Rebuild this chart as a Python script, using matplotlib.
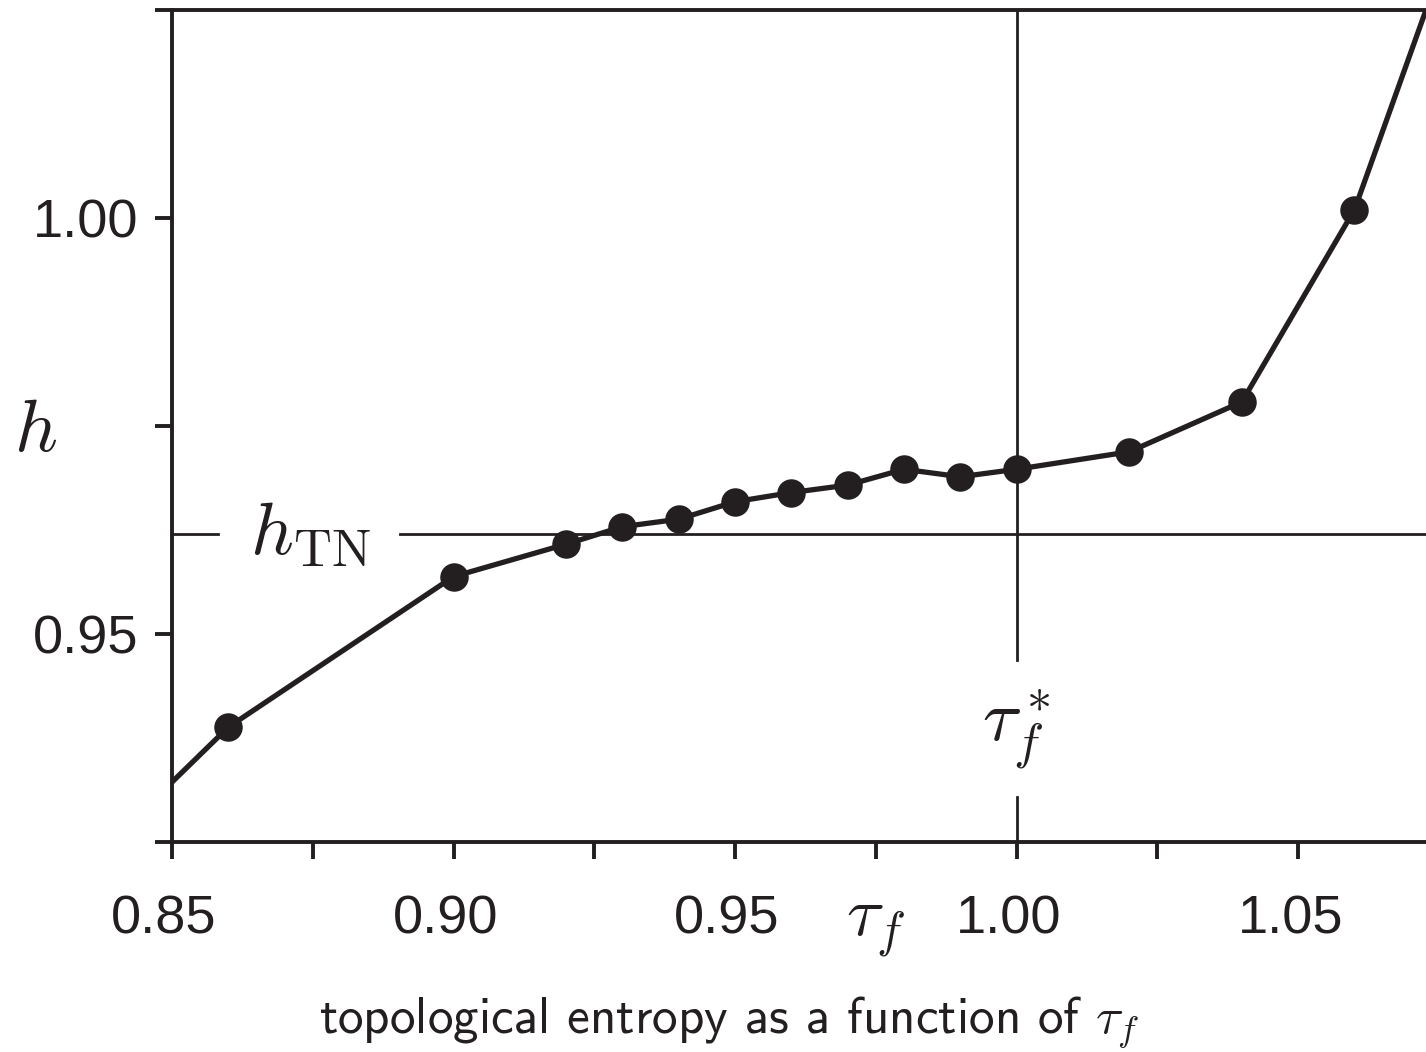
import matplotlib
matplotlib.use("Agg")
import matplotlib.pyplot as plt
import matplotlib.transforms as mtransforms
import numpy as np

# ---- data ----
tau_f = [0.84, 0.86, 0.90, 0.92, 0.93, 0.94, 0.95, 0.96, 0.97, 0.98, 0.99, 1.00, 1.02, 1.04, 1.06, 1.08]
entropy = [0.9256, 0.9388, 0.9569, 0.9608, 0.9629, 0.9638, 0.9659, 0.9670, 0.9679, 0.9698, 0.9689, 0.9698, 0.9719, 0.9779, 1.0010, 1.0388]
h_TN = 0.9620
tau_star = 1.00
x_ticks = [0.85, 0.875, 0.90, 0.925, 0.95, 0.975, 1.00, 1.025, 1.05]
x_ticklabels = ["0.85", "", "0.90", "", "0.95", r"$\tau_f$", "1.00", "", "1.05"]
y_ticks = [0.925, 0.95, 0.975, 1.00, 1.025]
y_ticklabels = ["", "0.95", "", "1.00", ""]

INK = "#231f20"
plt.rcParams["mathtext.fontset"] = "cm"

fig = plt.figure(figsize=(14.26, 10.52), dpi=100)
ax = fig.add_axes([172/1426, 1 - 842/1052, 1 - 172/1426, (842 - 10)/1052])

# reference lines (with gaps for labels)
ax.axhline(h_TN, xmin=0, xmax=(218 - 172)/1254, color=INK, lw=2.0, zorder=1)
ax.axhline(h_TN, xmin=(400 - 172)/1254, xmax=1, color=INK, lw=2.0, zorder=1)
ax.axvline(tau_star, ymin=0, ymax=(842 - 797)/832, color=INK, lw=2.0, zorder=1)
ax.axvline(tau_star, ymin=(842 - 660)/832, ymax=1, color=INK, lw=2.0, zorder=1)

ax.plot(tau_f, entropy, color=INK, lw=3.8, marker="o", ms=19.5, mfc=INK, mec=INK, zorder=3)

ax.text(0.8745, h_TN, r"$h_{\mathrm{TN}}$", fontsize=54, color=INK, ha="center", va="center")
ax.text(tau_star, 0.9385, r"$\tau_f^*$", fontsize=52, color=INK, ha="center", va="center")

# spines
for s in ["top", "left", "bottom"]:
    ax.spines[s].set_linewidth(2.8)
    ax.spines[s].set_color(INK)
ax.spines["right"].set_visible(False)

ax.set_xticks(x_ticks)
ax.set_xticklabels(x_ticklabels)
ax.set_yticks(y_ticks)
ax.set_yticklabels(y_ticklabels)
ax.set_xlim(0.85, 1.0727)
ax.set_ylim(0.925, 1.025)
ax.tick_params(axis="both", direction="out", length=12.5, width=2.8, color=INK,
               labelcolor=INK)
ax.tick_params(axis="x", pad=25)
ax.tick_params(axis="y", pad=12)
shift = mtransforms.ScaledTranslation(-8/100, 0, fig.dpi_scale_trans)
for lab in ax.get_xticklabels() + ax.get_yticklabels():
    if "$" in lab.get_text():
        lab.set_fontsize(50)
    else:
        lab.set_fontfamily("Liberation Sans")
        lab.set_fontsize(39)
for lab in ax.get_xticklabels():
    if "$" not in lab.get_text():
        lab.set_transform(lab.get_transform() + shift)

# y label h
fig.text(36/1426, 1 - 430/1052, r"$h$", fontsize=54, color=INK, ha="center", va="center")

# caption
fig.text(0.5 * (318 + 1140)/1426, 1 - 1022/1052, r"topological entropy as a function of $\tau_f$",
         fontfamily="cmss10", fontsize=36.8, color=INK, ha="center", va="center")

fig.savefig("out.png", dpi=100)
